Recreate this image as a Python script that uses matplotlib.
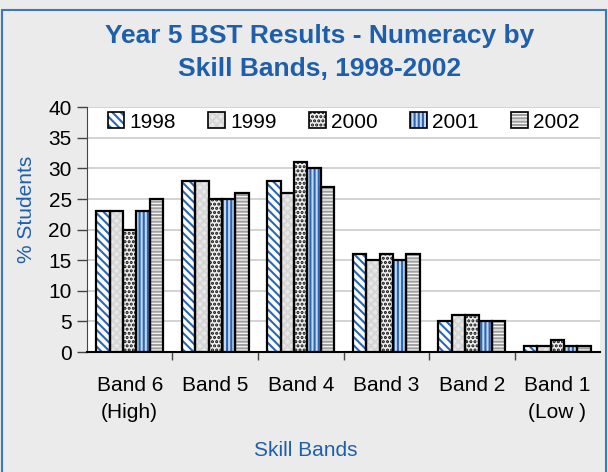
import matplotlib
matplotlib.use("Agg")
import matplotlib.pyplot as plt
from matplotlib.patches import Rectangle, Patch
from matplotlib.legend_handler import HandlerTuple
import numpy as np

plt.rcParams['font.family'] = ['Liberation Sans', 'DejaVu Sans']
plt.rcParams['hatch.linewidth'] = 1.5

categories = ["Band 6\n(High)", "Band 5", "Band 4", "Band 3", "Band 2", "Band 1\n(Low )"]
years = ["1998", "1999", "2000", "2001", "2002"]
values = {
    "1998": [23, 28, 28, 16, 5, 1],
    "1999": [23, 28, 26, 15, 6, 1],
    "2000": [20, 25, 31, 16, 6, 2],
    "2001": [23, 25, 30, 15, 5, 1],
    "2002": [25, 26, 27, 16, 5, 1],
}

BLUE = "#1f5faa"
# (face colour, hatch colour, hatch pattern) for each year
styles = {
    "1998": ("white", "#2a68b5", "\\\\\\\\"),
    "1999": ("#e8e8e8", "#d6d6d6", "xxxx"),
    "2000": ("#f0f0f0", "#111111", "...."),
    "2001": ("#c4d8f0", "#2a68b5", "||||"),
    "2002": ("#f6f6f6", "#a0a0a0", "-----"),
}

fig = plt.figure(figsize=(6.08, 4.72), dpi=100, facecolor="#ebebeb")
ax = fig.add_axes([0.143, 0.254, 0.844, 0.519])
ax.set_facecolor("white")

x = np.arange(len(categories))
bw = 0.157
for i, yr in enumerate(years):
    face, hcol, hatch = styles[yr]
    pos = x + (i - 2) * bw
    ax.bar(pos, values[yr], bw, color=face, edgecolor=hcol, hatch=hatch,
           linewidth=0, zorder=3)
    ax.bar(pos, values[yr], bw, fill=False, edgecolor="black",
           linewidth=1.6, zorder=4)

ax.set_xlim(-0.5, len(categories) - 0.5)
ax.set_ylim(0, 40)
ax.set_yticks(range(0, 41, 5))
ax.yaxis.grid(True, color="#cccccc", linewidth=1.2, zorder=0)
ax.set_axisbelow(True)

ax.set_xticks(x)
ax.set_xticklabels(categories, fontsize=15, linespacing=1.55)
ax.set_xticks(np.arange(0.5, len(categories) - 0.5, 1), minor=True)
ax.tick_params(axis="x", which="major", length=0, pad=17)
ax.tick_params(axis="x", which="minor", length=6, width=1, color="#444444")
ax.tick_params(axis="y", labelsize=15, length=7, width=1, color="#444444", pad=4)

for s in ("top", "right"):
    ax.spines[s].set_visible(False)
ax.spines["left"].set_color("#444444")
ax.spines["bottom"].set_color("black")
ax.spines["bottom"].set_linewidth(1.5)

ax.set_ylabel("% Students", color=BLUE, fontsize=15, labelpad=9, y=0.584)
ax.set_xlabel("Skill Bands", color=BLUE, fontsize=15, labelpad=14, x=0.427)

handles = []
for yr in years:
    face, hcol, hatch = styles[yr]
    handles.append((Patch(facecolor=face, edgecolor=hcol, hatch=hatch, linewidth=0),
                    Patch(fill=False, edgecolor="black", linewidth=1.2)))
ax.legend(handles, years, handler_map={tuple: HandlerTuple(ndivide=1)},
          ncol=5, loc="upper center", bbox_to_anchor=(0.5, 1.0),
          frameon=True, facecolor="white", edgecolor="none", framealpha=1,
          fontsize=15, handlelength=0.8, handleheight=0.8, handletextpad=0.25,
          columnspacing=1.55, borderpad=0.2, borderaxespad=0.05)

fig.text(0.526, 0.889, "Year 5 BST Results - Numeracy by\nSkill Bands, 1998-2002",
         ha="center", va="center", color=BLUE, fontsize=19, fontweight="bold",
         linespacing=1.45)

fig.patches.append(Rectangle((2 / 608, -0.1), 604 / 608, 1.1 - 10 / 472,
                             transform=fig.transFigure, fill=False,
                             edgecolor="#3b78c0", linewidth=1.5))

fig.savefig("out.png", dpi=100, facecolor=fig.get_facecolor())
